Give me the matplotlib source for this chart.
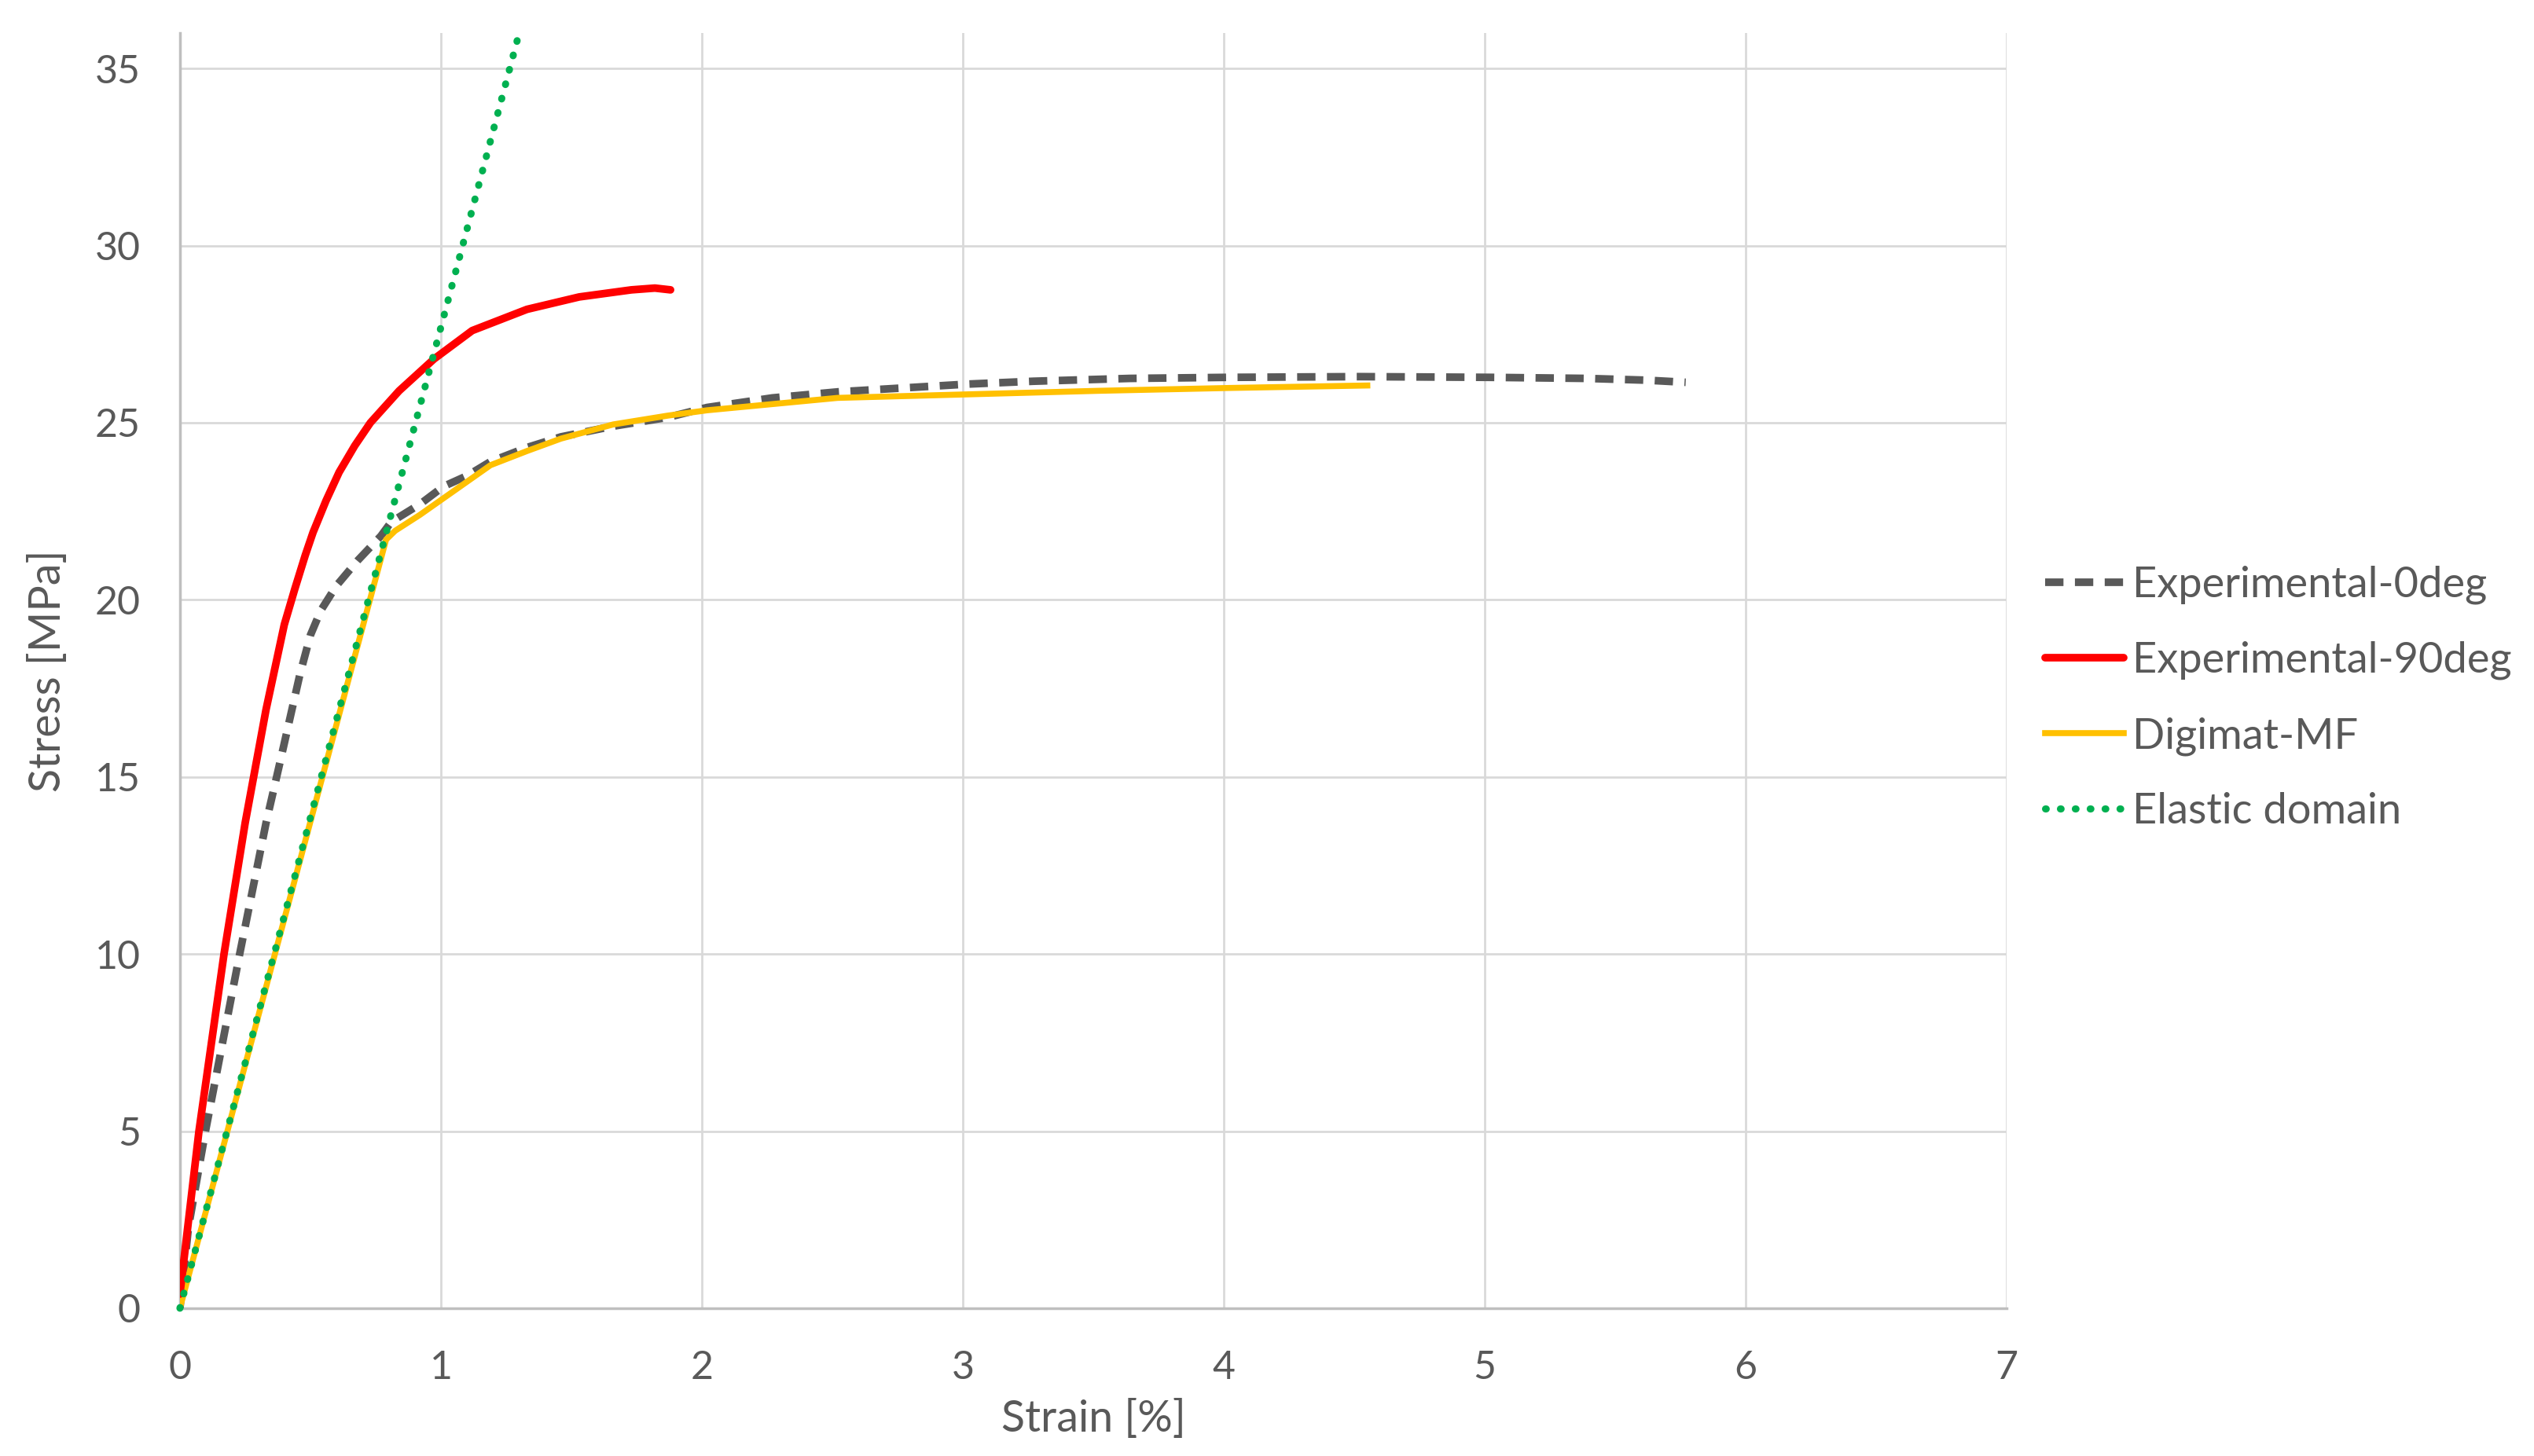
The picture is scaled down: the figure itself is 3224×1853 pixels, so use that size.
import matplotlib
matplotlib.use("Agg")
import matplotlib.pyplot as plt

plt.rcParams['font.family'] = ['Lato', 'DejaVu Sans']

# Experimental-0deg
strain_0 = [0, 0.033, 0.098, 0.229, 0.33, 0.38, 0.42, 0.46, 0.50, 0.54, 0.60, 0.68, 0.77, 0.81,
            0.92, 1.01, 1.10, 1.19, 1.33, 1.46, 1.66, 1.87, 2.02, 2.27, 2.52, 2.77, 3.02, 3.27,
            3.64, 4.02, 4.52, 5.02, 5.39, 5.62, 5.77]
stress_0 = [0, 2.3, 5.0, 10.0, 13.7, 15.3, 16.6, 17.9, 19.0, 19.7, 20.4, 21.1, 21.8, 22.2,
            22.7, 23.2, 23.5, 23.9, 24.3, 24.6, 24.9, 25.15, 25.43, 25.7, 25.87, 25.98, 26.09, 26.17,
            26.25, 26.28, 26.3, 26.28, 26.25, 26.2, 26.14]

# Experimental-90deg
strain_90 = [0, 0.073, 0.169, 0.25, 0.29, 0.33, 0.365, 0.40, 0.44, 0.48, 0.51, 0.56, 0.61, 0.67,
             0.73, 0.84, 0.974, 1.12, 1.33, 1.53, 1.73, 1.82, 1.88]
stress_90 = [0.4, 5.0, 10.0, 13.7, 15.3, 16.9, 18.1, 19.3, 20.3, 21.25, 21.9, 22.8, 23.6, 24.35,
             25.0, 25.9, 26.8, 27.6, 28.2, 28.55, 28.75, 28.8, 28.75]

# Digimat-MF
strain_mf = [0, 0.79, 0.825, 0.92, 1.055, 1.19, 1.33, 1.46, 1.66, 1.87, 2.02, 2.52, 3.02,
             3.52, 4.02, 4.55]
stress_mf = [0, 21.7, 21.95, 22.4, 23.1, 23.8, 24.2, 24.55, 24.95, 25.2, 25.35, 25.7, 25.8,
             25.9, 25.98, 26.05]

# Elastic domain
strain_el = [0, 1.30]
stress_el = [0, 36.0]

x_ticks = [0, 1, 2, 3, 4, 5, 6, 7]
y_ticks = [0, 5, 10, 15, 20, 25, 30, 35]

txt = '#595959'
fig = plt.figure(figsize=(32.24, 18.53), dpi=100)
ax = fig.add_axes([0.0710, 0.1015, 0.7209, 0.8758])

ax.plot(strain_0, stress_0, color='#595959', lw=7, linestyle=(0, (2.4, 1.5)),
        label='Experimental-0deg', zorder=3)
ax.plot(strain_90, stress_90, color='#FF0000', lw=7, label='Experimental-90deg',
        solid_capstyle='round', zorder=4)
ax.plot(strain_mf, stress_mf, color='#FFC000', lw=5.5, label='Digimat-MF', zorder=3)
ax.plot(strain_el, stress_el, color='#00B050', lw=6.5, linestyle=(0, (0.1, 2.0)),
        dash_capstyle='round', label='Elastic domain', zorder=5, clip_on=False)

ax.set_xlim(0, 7)
ax.set_ylim(0, 36)
ax.set_xticks(x_ticks)
ax.set_yticks(y_ticks)
ax.grid(True, color='#D9D9D9', lw=2)
ax.set_axisbelow(True)
ax.tick_params(length=0, labelsize=36, colors=txt)
ax.tick_params(axis='x', pad=38)
ax.tick_params(axis='y', pad=36)
for s in ['top', 'right']:
    ax.spines[s].set_visible(False)
for s in ['left', 'bottom']:
    ax.spines[s].set_color('#BFBFBF')
    ax.spines[s].set_linewidth(2.5)

ax.set_xlabel('Strain [%]', fontsize=40, color=txt)
ax.set_ylabel('Stress [MPa]', fontsize=40, color=txt)
ax.xaxis.label.set_va('center')
ax.xaxis.set_label_coords(0.5, -0.0875)
ax.yaxis.label.set_va('center')
ax.yaxis.label.set_ha('center')
ax.yaxis.set_label_coords(-0.072, 0.5)

leg = fig.legend(loc='center left', bbox_to_anchor=(0.792, 0.5205), frameon=False,
                 fontsize=39, handlelength=1.85, handletextpad=0.2, labelspacing=0.86)
for t in leg.get_texts():
    t.set_color(txt)

plt.savefig('out.png', dpi=100)
